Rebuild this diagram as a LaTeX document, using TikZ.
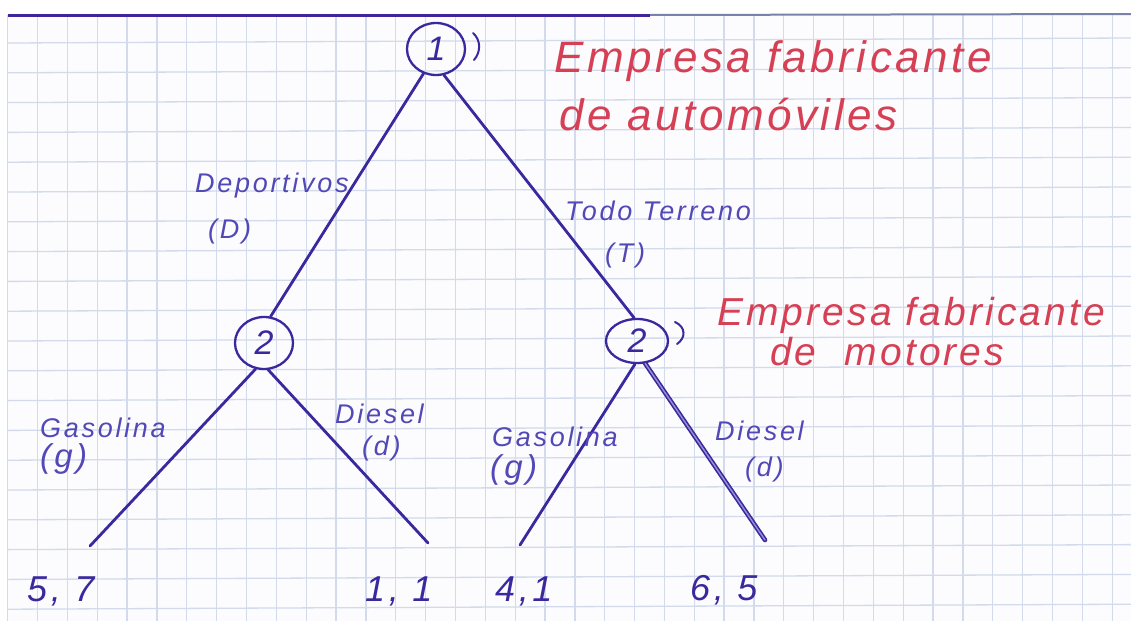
\documentclass[tikz,border=0pt]{standalone}
\usepackage{fontspec}
\usetikzlibrary{shapes.geometric}
\newfontfamily\handfont[LetterSpace=10]{Liberation Sans}
\newfontfamily\redfont[LetterSpace=8]{Liberation Sans}
\definecolor{ink}{RGB}{58,40,158}
\definecolor{inktext}{RGB}{82,72,182}
\definecolor{redink}{RGB}{214,64,84}
\definecolor{gridc}{RGB}{210,218,236}
\definecolor{paper}{RGB}{252,252,254}
\definecolor{edgegray}{RGB}{120,130,170}
\tikzset{
  decision/.style={ellipse, draw=ink, line width=2.3pt, inner sep=0pt, text=ink,
    font=\handfont\itshape\fontsize{34}{34}\selectfont},
  branch/.style={draw=ink, line width=2.8pt, line cap=round},
  lbl/.style={anchor=base west, inner sep=0pt, text=inktext,
    font=\handfont\itshape\fontsize{27}{30}\selectfont},
  biglbl/.style={lbl, font=\handfont\itshape\fontsize{33}{36}\selectfont},
  pay/.style={anchor=base west, inner sep=0pt, text=ink,
    font=\handfont\itshape\fontsize{36}{40}\selectfont},
  note/.style={anchor=base west, inner sep=0pt, text=redink,
    font=\redfont\itshape\fontsize{44}{48}\selectfont},
  smallnote/.style={note, font=\redfont\itshape\fontsize{39}{42}\selectfont},
  gridline/.style={draw=gridc, line width=1.3pt},
  stroke/.style={draw=ink, line width=2pt, line cap=round}
}
\begin{document}
\begin{tikzpicture}[x=1pt,y=-1pt]
\useasboundingbox (0,0) rectangle (1131,621);
\fill[white] (0,0) rectangle (1131,621);
\fill[paper] (8,15) rectangle (1131,621);
% graph paper
\foreach \k in {0,...,37} \draw[gridline] ({7.7+\k*29.85},15) -- ({7.7+\k*29.85},621);
\foreach \k in {0,...,19} \draw[gridline] (8,{43+\k*29.8}) -- (1131,{38+\k*29.8});
% top edge of the sheet
\draw[draw=ink!90!violet, line width=3pt] (8,15) -- (650,15);
\draw[draw=edgegray, line width=2pt] (650,15) -- (1131,14);

% decision nodes
\node[decision, minimum width=58pt, minimum height=52pt] (n1) at (436,49) {1};
\node[decision, minimum width=58pt, minimum height=52pt] (n2L) at (264,343) {2};
\node[decision, minimum width=62pt, minimum height=44pt] (n2R) at (637,341) {2};
\draw[stroke] (473,33) .. controls (481,40) and (481,52) .. (474,60);
\draw[stroke] (675,322) .. controls (686,327) and (686,338) .. (677,344);

% leaf points
\coordinate (l1) at (90,546);
\coordinate (l2) at (428,543);
\coordinate (l3) at (520,545);
\coordinate (l4) at (765,540);

% branches
\draw[branch] (n1.243) -- (n2L.76);
\draw[branch] (n1.287) -- (n2R.97);
\draw[branch] (n2L.252) -- (l1);
\draw[branch] (n2L.279) -- (l2);
\draw[branch] (n2R.265) -- (l3);
\draw[branch, line width=1.6pt, double=inktext!60, double distance=1.4pt] (n2R.290) -- (l4);

% branch labels
\node[lbl] (tD) at (195,192) {Deportivos};
\node[lbl] (tDs) at (208,238) {(D)};
\node[lbl] (tT) at (565,220) {Todo Terreno};
\node[lbl] (tTs) at (605,262) {(T)};
\node[lbl] (tG1) at (40,437) {Gasolina};
\node[biglbl] (tG1s) at (40,467) {(g)};
\node[lbl] (tD1) at (335,423) {Diesel};
\node[lbl] (tD1s) at (362,455) {(d)};
\node[lbl] (tG2) at (492,446) {Gasolina};
\node[biglbl] (tG2s) at (490,478) {(g)};
\node[lbl] (tD2) at (715,440) {Diesel};
\node[lbl] (tD2s) at (745,476) {(d)};

% payoffs
\node[pay] (p1) at (27,601) {5, 7};
\node[pay] (p2) at (365,601) {1, 1};
\node[pay] (p3) at (495,601) {4,1};
\node[pay] (p4) at (690,600) {6, 5};

% player notes
\node[note] (e1a) at (554,72) {Empresa fabricante};
\node[note] (e1b) at (559,130) {de automóviles};
\node[smallnote] (e2a) at (717,325) {Empresa fabricante};
\node[smallnote] (e2b) at (770,365) {de\hspace*{28pt}motores};
\end{tikzpicture}
\end{document}
